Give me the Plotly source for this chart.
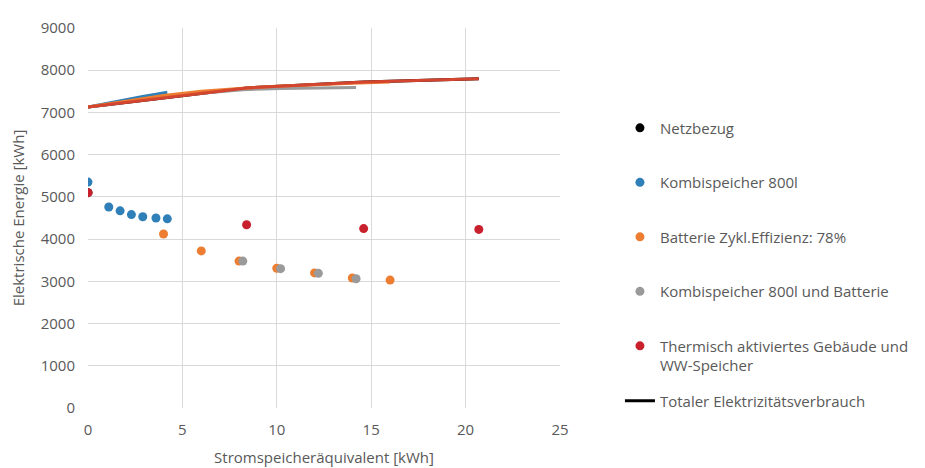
import plotly.graph_objects as go

# Data
netz_x = [0]
netz_y = [5100]

kombi_x = [0, 1.1, 1.7, 2.3, 2.9, 3.6, 4.2]
kombi_y = [5350, 4760, 4670, 4580, 4530, 4500, 4480]
kombi_tot = [7130, 7230, 7280, 7330, 7380, 7430, 7480]

batt_x = [0, 4, 6, 8, 10, 12, 14, 16]
batt_y = [5100, 4120, 3720, 3480, 3310, 3200, 3080, 3030]
batt_tot = [7130, 7400, 7500, 7570, 7620, 7660, 7690, 7720]

kb_x = [8.2, 10.2, 12.2, 14.2]
kb_y = [3480, 3300, 3190, 3060]
kb_tot_x = [0, 4, 8.2, 10.2, 12.2, 14.2]
kb_tot = [7130, 7380, 7540, 7570, 7580, 7590]

therm_x = [0, 8.4, 14.6, 20.7]
therm_y = [5100, 4340, 4250, 4230]
therm_tot = [7130, 7580, 7720, 7800]

x_ticks = [0, 5, 10, 15, 20, 25]
y_ticks = [0, 1000, 2000, 3000, 4000, 5000, 6000, 7000, 8000, 9000]

C_BLUE = "#2f7fb8"
C_ORANGE = "#ed7d31"
C_GRAY = "#9a9a9a"
C_RED = "#c8202c"
C_LINE_RED = "#d4452f"
TXT = "#595959"
FONT = "Open Sans"
FS = 15

fig = go.Figure()

# lines (total consumption)
fig.add_trace(go.Scatter(x=therm_x, y=therm_tot, mode="lines", line=dict(color="black", width=3),
                         name="Totaler Elektrizitätsverbrauch", legend="legend2"))
fig.add_trace(go.Scatter(x=kombi_x, y=kombi_tot, mode="lines", line=dict(color=C_BLUE, width=3), showlegend=False))
fig.add_trace(go.Scatter(x=kb_tot_x, y=kb_tot, mode="lines", line=dict(color=C_GRAY, width=3), showlegend=False))
fig.add_trace(go.Scatter(x=batt_x, y=batt_tot, mode="lines", line=dict(color=C_ORANGE, width=3), showlegend=False))
fig.add_trace(go.Scatter(x=therm_x, y=therm_tot, mode="lines", line=dict(color=C_LINE_RED, width=3), showlegend=False))

mk = 9
fig.add_trace(go.Scatter(x=netz_x, y=netz_y, mode="markers", marker=dict(color="black", size=mk),
                         name="Netzbezug", legendgroup="a"))
fig.add_trace(go.Scatter(x=kombi_x, y=kombi_y, mode="markers", marker=dict(color=C_BLUE, size=mk),
                         name="Kombispeicher 800l", legendgroup="b"))
fig.add_trace(go.Scatter(x=batt_x[1:], y=batt_y[1:], mode="markers", marker=dict(color=C_ORANGE, size=mk),
                         name="Batterie Zykl.Effizienz: 78%", legendgroup="c"))
fig.add_trace(go.Scatter(x=kb_x, y=kb_y, mode="markers", marker=dict(color=C_GRAY, size=mk),
                         name="Kombispeicher 800l und Batterie", legendgroup="d"))
fig.add_trace(go.Scatter(x=therm_x, y=therm_y, mode="markers", marker=dict(color=C_RED, size=mk),
                         name="Thermisch aktiviertes Gebäude und<br>WW-Speicher", legendgroup="e"))

fig.update_layout(
    width=925, height=468,
    margin=dict(l=80, r=373, t=20, b=68),
    paper_bgcolor="white", plot_bgcolor="white",
    font=dict(family=FONT, size=FS, color=TXT),
    legend=dict(x=1.127, y=0.78, xanchor="left", yanchor="top", tracegroupgap=32,
                traceorder="grouped", valign="top", font=dict(size=FS, color=TXT)),
    legend2=dict(x=1.127, y=0.062, xanchor="left", yanchor="top", font=dict(size=FS, color=TXT)),
    xaxis=dict(range=[0, 25], tickvals=x_ticks, showgrid=True, gridcolor="#d9d9d9", gridwidth=1,
               zeroline=False, showline=False, automargin=False, ticklabelstandoff=11,
               tickfont=dict(size=FS, color=TXT),
               title=dict(text="Stromspeicheräquivalent [kWh]", font=dict(size=FS, color=TXT), standoff=14)),
    yaxis=dict(range=[0, 9000], tickvals=y_ticks, showgrid=True, gridcolor="#d9d9d9", gridwidth=1,
               zeroline=False, showline=False, automargin=False, ticklabelstandoff=12,
               tickfont=dict(size=FS, color=TXT),
               title=dict(text="Elektrische Energie [kWh]", font=dict(size=FS, color=TXT), standoff=12)),
)

fig.write_html("out.html")
